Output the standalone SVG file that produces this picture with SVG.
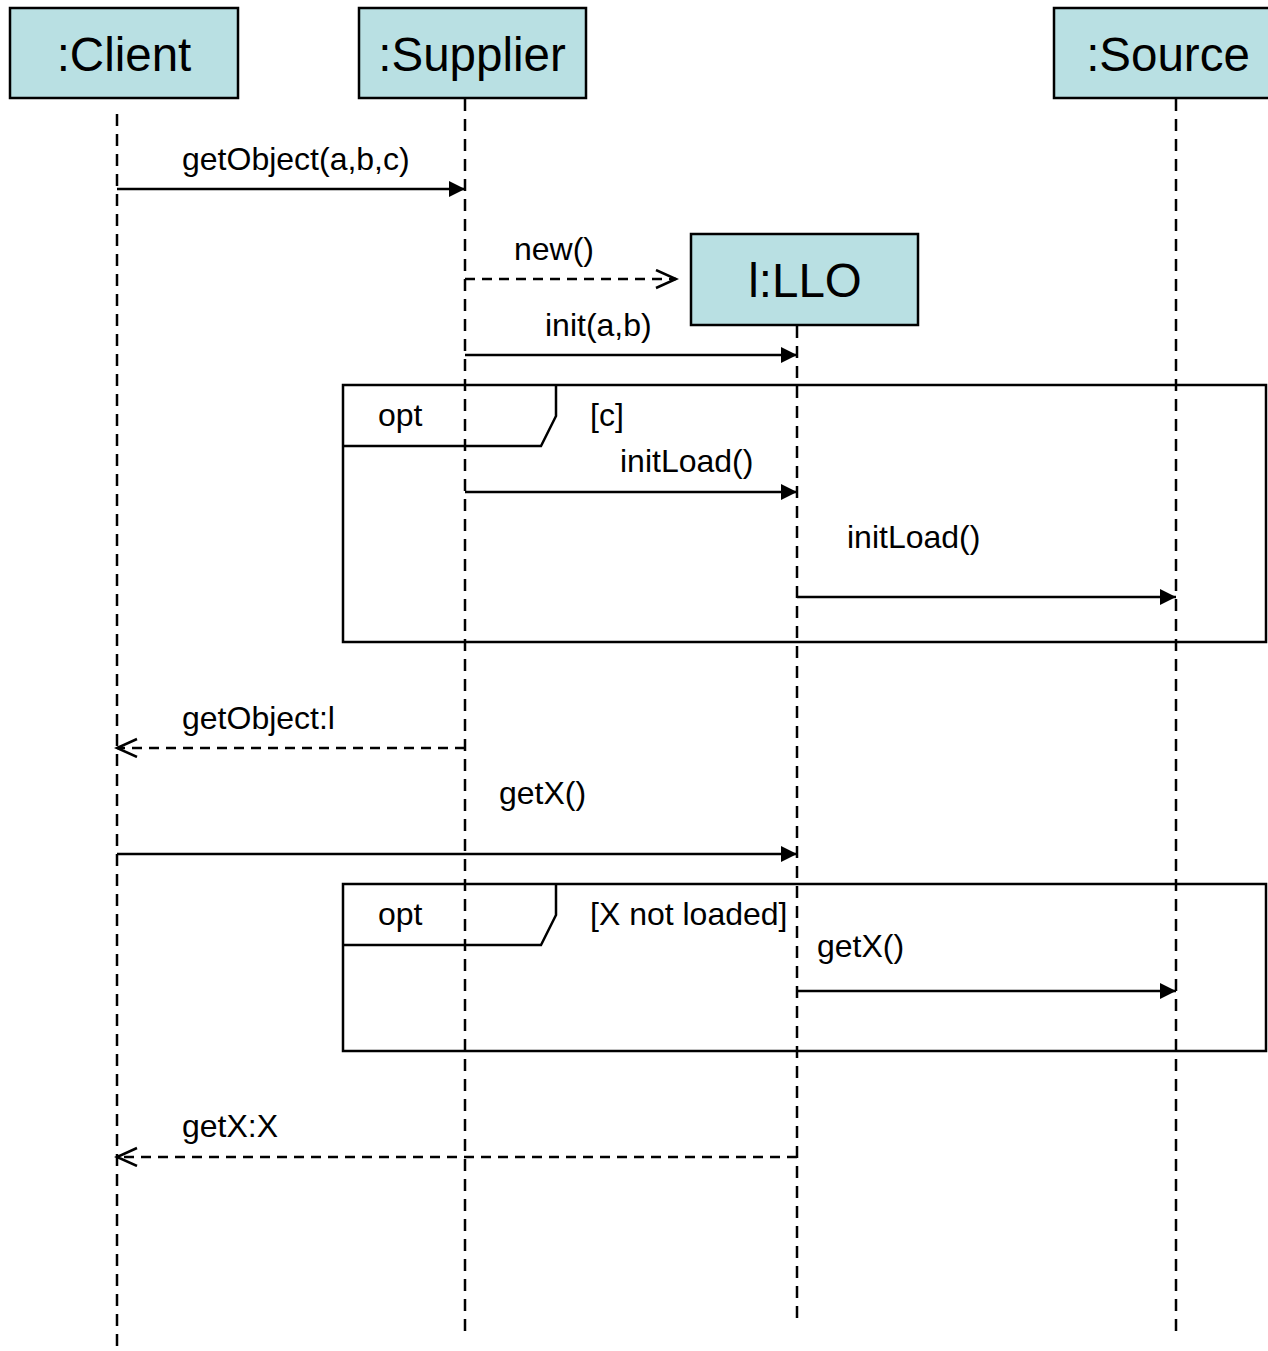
<svg xmlns="http://www.w3.org/2000/svg" width="1268" height="1351" viewBox="0 0 1268 1351">
<style>
text{font-family:"Liberation Sans",Arial,sans-serif;fill:#000}
.obj{fill:#B9E0E3;stroke:#000;stroke-width:2.5}
.hd{font-size:47.5px;text-anchor:middle}
.lb{font-size:32px}
.life{stroke:#000;stroke-width:2.5;stroke-dasharray:12,8;fill:none}
.msg{stroke:#000;stroke-width:2.5;fill:none}
.ret{stroke:#000;stroke-width:2.5;stroke-dasharray:10,7;fill:none}
.frame{fill:none;stroke:#000;stroke-width:2.5}
</style>
<defs>
<marker id="fill" markerWidth="18" markerHeight="18" refX="16" refY="8" orient="auto" markerUnits="userSpaceOnUse">
<path d="M0,0 L16,8 L0,16 Z" fill="#000"/>
</marker>
<marker id="open" markerWidth="24" markerHeight="24" refX="21" refY="10" orient="auto" markerUnits="userSpaceOnUse">
<path d="M1,1 L21,10 L1,19" fill="none" stroke="#000" stroke-width="2.5"/>
</marker>
</defs>
<rect width="1268" height="1351" fill="#fff"/>
<g id="lifelines">
<line class="life" x1="117" y1="114" x2="117" y2="1351"/>
<line class="life" x1="465" y1="99" x2="465" y2="1338"/>
<line class="life" x1="797" y1="326" x2="797" y2="1323"/>
<line class="life" x1="1176" y1="99" x2="1176" y2="1338"/>
</g>
<g id="client"><rect class="obj" x="10" y="8" width="228" height="90"/><text class="hd" x="124" y="71">:Client</text></g>
<g id="supplier"><rect class="obj" x="359" y="8" width="227" height="90"/><text class="hd" x="472" y="71">:Supplier</text></g>
<g id="source"><rect class="obj" x="1054" y="8" width="240" height="90"/><text class="hd" x="1168" y="71">:Source</text></g>
<g id="llo"><rect class="obj" x="691" y="234" width="227" height="91"/><text class="hd" x="805" y="297">l:LLO</text></g>
<g id="opt1">
<rect class="frame" x="343" y="385" width="923" height="257"/>
<path class="frame" d="M343,446 L541,446 L556,416 L556,385"/>
<text class="lb" x="378" y="426">opt</text>
<text class="lb" x="590" y="426">[c]</text>
</g>
<g id="opt2">
<rect class="frame" x="343" y="884" width="923" height="167"/>
<path class="frame" d="M343,945 L541,945 L556,915 L556,884"/>
<text class="lb" x="378" y="925">opt</text>
<text class="lb" x="590" y="925">[X not loaded]</text>
</g>
<g id="connectors">
<line class="msg" x1="117" y1="189" x2="465" y2="189" marker-end="url(#fill)"/>
<line class="ret" x1="465" y1="279" x2="676" y2="279" marker-end="url(#open)"/>
<line class="msg" x1="465" y1="355" x2="797" y2="355" marker-end="url(#fill)"/>
<line class="msg" x1="465" y1="492" x2="797" y2="492" marker-end="url(#fill)"/>
<line class="msg" x1="797" y1="597" x2="1176" y2="597" marker-end="url(#fill)"/>
<line class="ret" x1="465" y1="748" x2="117" y2="748" marker-end="url(#open)"/>
<line class="msg" x1="117" y1="854" x2="797" y2="854" marker-end="url(#fill)"/>
<line class="msg" x1="797" y1="991" x2="1176" y2="991" marker-end="url(#fill)"/>
<line class="ret" x1="797" y1="1157" x2="117" y2="1157" marker-end="url(#open)"/>
</g>
<g id="labels">
<text class="lb" x="182" y="170">getObject(a,b,c)</text>
<text class="lb" x="514" y="260">new()</text>
<text class="lb" x="545" y="336">init(a,b)</text>
<text class="lb" x="620" y="472">initLoad()</text>
<text class="lb" x="847" y="548">initLoad()</text>
<text class="lb" x="182" y="729">getObject:l</text>
<text class="lb" x="499" y="804">getX()</text>
<text class="lb" x="817" y="957">getX()</text>
<text class="lb" x="182" y="1137">getX:X</text>
</g>
</svg>
